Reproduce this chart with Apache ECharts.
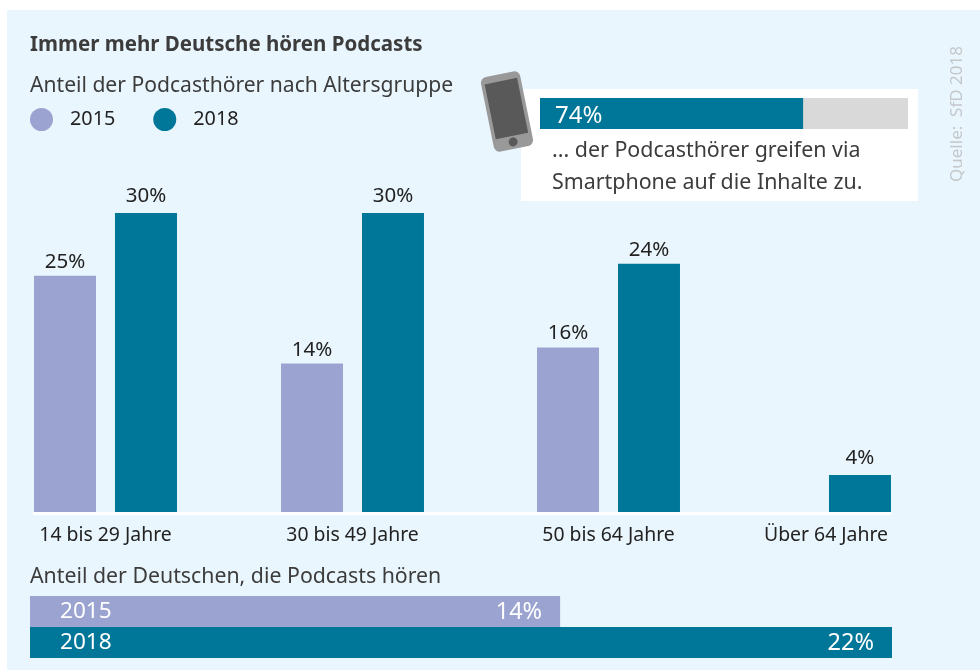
<!DOCTYPE html>
<html>
<head>
<meta charset="utf-8">
<script src="https://cdn.jsdelivr.net/npm/echarts@6/dist/echarts.min.js"></script>
<style>
html, body {margin: 0; padding: 0; background: #fff;}
#chart {width: 980px; height: 670px;}
</style>
</head>
<body>
<div id="chart"></div>
<script>
//----------------------Data----------------------
let age_groups = ['14 bis 29 Jahre', '30 bis 49 Jahre', '50 bis 64 Jahre', 'Über 64 Jahre'];
// bar lengths as drawn in the picture, printed numbers kept apart (they differ a bit there)
let age_2015 = [23.7, 14.9, 16.5, null];
let age_2018 = [30, 30, 24.9, 3.7];
let age_2015_labels = ['25%', '14%', '16%', ''];
let age_2018_labels = ['30%', '30%', '24%', '4%'];
let years = ['2015', '2018'];
let total_values = [13.53, 22];
let total_labels = ['14%', '22%'];
let phone_value = [71.5];
let phone_label = ['74%'];
//--------------------Colors----------------------
let col_2015 = '#9ba3d1';
let col_2018 = '#007698';
let col_text = '#3c3c3c';
let font = '"Noto Sans", sans-serif';
//--------------------Location--------------------
let group_left = [33, 280, 536, 747];
let group_shift = [0, 0, 0, 13];
let group_width = 145;
let group_top = 213;
let group_height = 299;
let gap_2015 = [3, 3, 4, 3];
let gap_2018 = [6, 6, 3, 6];

let chart = echarts.init(document.getElementById('chart'));

let grids = [];
let xAxes = [];
let yAxes = [];
let series = [];
//--------------Age groups, one grid each---------
age_groups.forEach(function (name, i) {
    grids.push({left: group_left[i], width: group_width, top: group_top, height: group_height});
    xAxes.push({
        gridIndex: i,
        type: 'category',
        data: [name],
        axisLine: {show: false},
        axisTick: {show: false},
        axisLabel: {
            color: '#222',
            fontFamily: font,
            fontSize: 19.4,
            margin: 14,
            padding: [0, 0, 0, group_shift[i]]
        }
    });
    yAxes.push({gridIndex: i, type: 'value', min: 0, max: 30, show: false});
    [[years[0], age_2015, age_2015_labels, col_2015, gap_2015], [years[1], age_2018, age_2018_labels, col_2018, gap_2018]].forEach(function (s) {
        series.push({
            name: s[0],
            type: 'bar',
            xAxisIndex: i,
            yAxisIndex: i,
            barWidth: 62,
            barGap: '30.6%',
            itemStyle: {color: s[3]},
            label: {
                show: true,
                position: 'top',
                distance: s[4][i],
                color: '#222',
                fontFamily: font,
                fontSize: 20.5,
                formatter: s[2][i]
            },
            data: [s[1][i]]
        });
    });
});
//----------------Bottom two bars-----------------
grids.push({left: 30, width: 862, top: 596, height: 62});
xAxes.push({gridIndex: 4, type: 'value', min: 0, max: 22, show: false});
yAxes.push({
    gridIndex: 4,
    type: 'category',
    inverse: true,
    data: years,
    z: 5,
    axisLine: {show: false},
    axisTick: {show: false},
    axisLabel: {inside: true, margin: 30, color: '#fff', fontFamily: font, fontSize: 22.6, padding: [3, 0, 0, 0]}
});
series.push({
    type: 'bar',
    xAxisIndex: 4,
    yAxisIndex: 4,
    barWidth: 31,
    label: {
        show: true,
        position: 'insideRight',
        distance: 18,
        offset: [0, 1],
        color: '#fff',
        fontFamily: font,
        fontSize: 23.5,
        formatter: function (p) { return total_labels[p.dataIndex]; }
    },
    data: total_values.map(function (v, i) {
        return {value: v, itemStyle: {color: i === 0 ? col_2015 : col_2018}};
    })
});
//------------------Smartphone bar----------------
grids.push({left: 540, width: 368, top: 98, height: 31});
xAxes.push({gridIndex: 5, type: 'value', min: 0, max: 100, show: false});
yAxes.push({gridIndex: 5, type: 'category', data: ['Smartphone'], show: false});
series.push({
    type: 'bar',
    xAxisIndex: 5,
    yAxisIndex: 5,
    barWidth: 31,
    showBackground: true,
    backgroundStyle: {color: '#d9d9d9'},
    itemStyle: {color: col_2018},
    label: {
        show: true,
        position: 'insideLeft',
        distance: 15,
        offset: [0, 3],
        color: '#fff',
        fontFamily: font,
        fontSize: 24,
        formatter: phone_label[0]
    },
    data: phone_value
});
//---------------------Graphic--------------------
let graphic = [
    {type: 'rect', z: -10, shape: {x: 7, y: 10, width: 973, height: 660}, style: {fill: '#eaf6fd'}},
    {type: 'rect', z: -9, shape: {x: 521, y: 89, width: 397, height: 112}, style: {fill: '#fff'}},
    {type: 'rect', z: -9, shape: {x: 33, y: 512, width: 858, height: 3}, style: {fill: '#fff'}},
    {
        type: 'group',
        x: 507,
        y: 111.5,
        rotation: 0.2,
        children: [
            {type: 'rect', shape: {x: -20, y: -38, width: 40, height: 76, r: 6}, style: {fill: '#999999'}},
            {type: 'rect', shape: {x: -16.5, y: -31, width: 33, height: 56}, style: {fill: '#595959'}},
            {type: 'circle', shape: {cx: 0, cy: 31, r: 4.5}, style: {fill: '#595959'}}
        ]
    },
    {type: 'text', x: 552, y: 151, style: {text: '... der Podcasthörer greifen via', fill: col_text, font: '21.4px ' + font, verticalAlign: 'middle'}},
    {type: 'text', x: 552, y: 183, style: {text: 'Smartphone auf die Inhalte zu.', fill: col_text, font: '21.4px ' + font, verticalAlign: 'middle'}},
    {type: 'text', x: 30, y: 45, style: {text: 'Immer mehr Deutsche hören Podcasts', fill: col_text, font: 'bold 20.5px ' + font, verticalAlign: 'middle'}},
    {type: 'text', x: 30, y: 86, style: {text: 'Anteil der Podcasthörer nach Altersgruppe', fill: col_text, font: '21.1px ' + font, verticalAlign: 'middle'}},
    {type: 'text', x: 30, y: 577, style: {text: 'Anteil der Deutschen, die Podcasts hören', fill: col_text, font: '21.3px ' + font, verticalAlign: 'middle'}},
    {
        type: 'text',
        x: 957,
        y: 114,
        rotation: Math.PI / 2,
        style: {text: 'Quelle:  SfD 2018', fill: '#c4c8cb', font: '17px ' + font, align: 'center', verticalAlign: 'middle'}
    }
];
//------------------Generate Graph------------------
let option = {
    animation: false,
    legend: {
        left: 25,
        top: 103,
        itemWidth: 23,
        itemHeight: 23,
        itemGap: 38,
        icon: 'circle',
        data: years,
        textStyle: {color: '#222', fontFamily: font, fontSize: 19.8, padding: [0, 0, 0, 12]}
    },
    graphic: graphic,
    grid: grids,
    xAxis: xAxes,
    yAxis: yAxes,
    series: series
};
chart.setOption(option);
</script>
</body>
</html>
